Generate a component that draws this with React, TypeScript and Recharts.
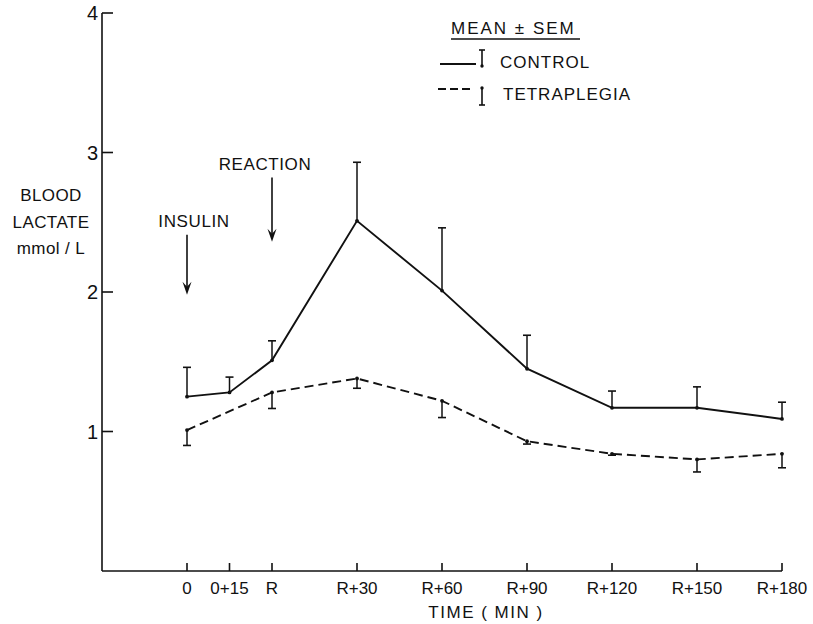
import React from 'react';
import { LineChart, Line, XAxis, YAxis, ErrorBar, ReferenceLine, Legend, Label } from 'recharts';

const INK = '#111';
const FONT = '"Liberation Sans", Arial, sans-serif';

// minutes after insulin; R (reaction) is drawn at 30 min
const timeMinutes = [0, 15, 30, 60, 90, 120, 150, 180, 210];
const timeLabels = ['0', '0+15', 'R', 'R+30', 'R+60', 'R+90', 'R+120', 'R+150', 'R+180'];
const yTicks = [1, 2, 3, 4];

const controlTimes = [0, 15, 30, 60, 90, 120, 150, 180, 210];
const controlMean = [1.25, 1.28, 1.51, 2.51, 2.01, 1.45, 1.17, 1.17, 1.09];
const controlSem = [0.21, 0.11, 0.14, 0.42, 0.45, 0.24, 0.12, 0.15, 0.12];

const tetraTimes = [0, 30, 60, 90, 120, 150, 180, 210];
const tetraMean = [1.01, 1.28, 1.38, 1.22, 0.93, 0.84, 0.8, 0.84];
const tetraSem = [0.11, 0.115, 0.07, 0.12, 0.02, 0.01, 0.09, 0.1];

const annotations = [
  { text: 'INSULIN', t: 0, from: 2.41, to: 1.98, dx: 7 },
  { text: 'REACTION', t: 30, from: 2.82, to: 2.36, dx: -7 },
];

// control SEM drawn upwards, tetraplegia SEM drawn downwards
const controlData = controlTimes.map((t, i) => ({
  t,
  mean: controlMean[i],
  err: [0, controlSem[i]],
  cap: controlMean[i] + controlSem[i],
}));
const tetraData = tetraTimes.map((t, i) => ({
  t,
  mean: tetraMean[i],
  err: [tetraSem[i], 0],
  cap: tetraMean[i] - tetraSem[i],
}));

const labelFor = (v: number) => timeLabels[timeMinutes.indexOf(v)] ?? '';

const renderCap = (props: any) => {
  const { cx, cy, index } = props;
  return <line key={`cap-${index}`} x1={cx - 4} x2={cx + 4} y1={cy} y2={cy} stroke={INK} strokeWidth={1.6} />;
};

const YTick = (props: any) => {
  const { x, y, payload } = props;
  return (
    <text x={x} y={y} dy="0.36em" textAnchor="end" fontFamily={FONT} fontSize={20} fill={INK}>
      {payload.value}
    </text>
  );
};

const ArrowShape = (props: any) => {
  const { x1, y1, x2, y2, text, dx } = props;
  return (
    <g>
      <line x1={x1} y1={y1} x2={x2} y2={y2 - 6} stroke={INK} strokeWidth={1.6} />
      <path d={`M${x2},${y2} L${x2 - 4.5},${y2 - 13} L${x2},${y2 - 8} L${x2 + 4.5},${y2 - 13} Z`} fill={INK} />
      <text x={x1 + dx} y={y1 - 8} textAnchor="middle" fontFamily={FONT} fontSize={17} fill={INK} letterSpacing={0.6}>
        {text}
      </text>
    </g>
  );
};

const YTitle = (props: any) => {
  const { viewBox } = props;
  const cx = viewBox.x + viewBox.width / 2;
  const lines = ['BLOOD', 'LACTATE', 'mmol / L'];
  return (
    <text textAnchor="middle" fontFamily={FONT} fontSize={17} fill={INK} letterSpacing={0.4}>
      {lines.map((l, i) => (
        <tspan key={l} x={cx} y={viewBox.y + 188 + i * 26.5}>
          {l}
        </tspan>
      ))}
    </text>
  );
};

const LegendBox = (props: any) => {
  const items = (props.payload || []).filter((p: any) => p.value === 'CONTROL' || p.value === 'TETRAPLEGIA');
  return (
    <svg width={220} height={100} style={{ display: 'block' }}>
      <text x={15} y={20} fontFamily={FONT} fontSize={17} fill={INK} letterSpacing={2}>
        MEAN ± SEM
      </text>
      <line x1={15} x2={144} y1={25} y2={25} stroke={INK} strokeWidth={1.5} />
      {items.map((p: any, i: number) => {
        const dashed = !!p.payload?.strokeDasharray;
        const y = 50 + i * 25;
        return (
          <g key={p.value}>
            <line x1={dashed ? 2 : 4} x2={dashed ? 38 : 40} y1={y} y2={y} stroke={INK} strokeWidth={1.9}
              strokeDasharray={dashed ? '8 4' : undefined} />
            {dashed ? (
              <g>
                <line x1={46} x2={46} y1={y - 1} y2={y + 16} stroke={INK} strokeWidth={1.6} />
                <line x1={43} x2={49} y1={y + 16} y2={y + 16} stroke={INK} strokeWidth={1.6} />
                <circle cx={46} cy={y - 1} r={1.7} fill={INK} />
              </g>
            ) : (
              <g>
                <line x1={46} x2={46} y1={y - 14} y2={y + 2} stroke={INK} strokeWidth={1.6} />
                <line x1={43} x2={49} y1={y - 14} y2={y - 14} stroke={INK} strokeWidth={1.6} />
                <circle cx={46} cy={y + 2} r={1.7} fill={INK} />
              </g>
            )}
            <text x={dashed ? 67 : 64} y={y + (dashed ? 11 : 4)} fontFamily={FONT} fontSize={17} fill={INK} letterSpacing={1}>
              {p.value}
            </text>
          </g>
        );
      })}
    </svg>
  );
};

export default function App() {
  return (
    <div style={{ position: 'absolute', left: 0, top: 0, background: '#fff' }}>
      <LineChart width={813} height={624} margin={{ top: 13, right: 31, bottom: 0, left: 0 }}>
        <XAxis
          dataKey="t"
          type="number"
          domain={[-30, 210]}
          ticks={timeMinutes}
          tickFormatter={labelFor}
          height={53}
          stroke={INK}
          strokeWidth={1.6}
          tickSize={-8}
          tickMargin={19}
          fontFamily={FONT}
          fontSize={17}
          tick={{ fill: INK, fontSize: 17, fontFamily: FONT }}
        >
          <Label value="TIME  ( MIN )" position="insideBottom" offset={6} dx={44} fontFamily={FONT} fontSize={17} fill={INK} letterSpacing={1.5} />
        </XAxis>
        <YAxis
          type="number"
          domain={[0, 4]}
          ticks={yTicks}
          width={102}
          stroke={INK}
          strokeWidth={1.6}
          tickSize={-11}
          tickMargin={15}
          tick={<YTick />}
        >
          <Label content={<YTitle />} />
        </YAxis>
        <Legend
          layout="horizontal"
          verticalAlign="middle"
          align="center"
          content={<LegendBox />}
          wrapperStyle={{ position: 'absolute', left: 436, top: 14, width: 220 }}
        />
        {annotations.map((a) => (
          <ReferenceLine
            key={a.text}
            segment={[{ x: a.t, y: a.from }, { x: a.t, y: a.to }]}
            ifOverflow="visible"
            shape={(p: any) => <ArrowShape {...p} text={a.text} dx={a.dx} />}
          />
        ))}
        <Line
          data={controlData}
          dataKey="mean"
          name="CONTROL"
          type="linear"
          stroke={INK}
          strokeWidth={1.9}
          dot={{ r: 1.9, fill: INK, stroke: INK, strokeWidth: 0 }}
          activeDot={false}
          isAnimationActive={false}
        >
          <ErrorBar dataKey="err" width={0} stroke={INK} strokeWidth={1.5} direction="y" />
        </Line>
        <Line
          data={controlData}
          dataKey="cap"
          name="controlCap"
          legendType="none"
          stroke="none"
          dot={renderCap}
          activeDot={false}
          isAnimationActive={false}
        />
        <Line
          data={tetraData}
          dataKey="mean"
          name="TETRAPLEGIA"
          type="linear"
          stroke={INK}
          strokeWidth={1.9}
          strokeDasharray="9 5"
          dot={{ r: 1.9, fill: INK, stroke: INK, strokeWidth: 0 }}
          activeDot={false}
          isAnimationActive={false}
        >
          <ErrorBar dataKey="err" width={0} stroke={INK} strokeWidth={1.5} direction="y" />
        </Line>
        <Line
          data={tetraData}
          dataKey="cap"
          name="tetraCap"
          legendType="none"
          stroke="none"
          dot={renderCap}
          activeDot={false}
          isAnimationActive={false}
        />
      </LineChart>
    </div>
  );
}
